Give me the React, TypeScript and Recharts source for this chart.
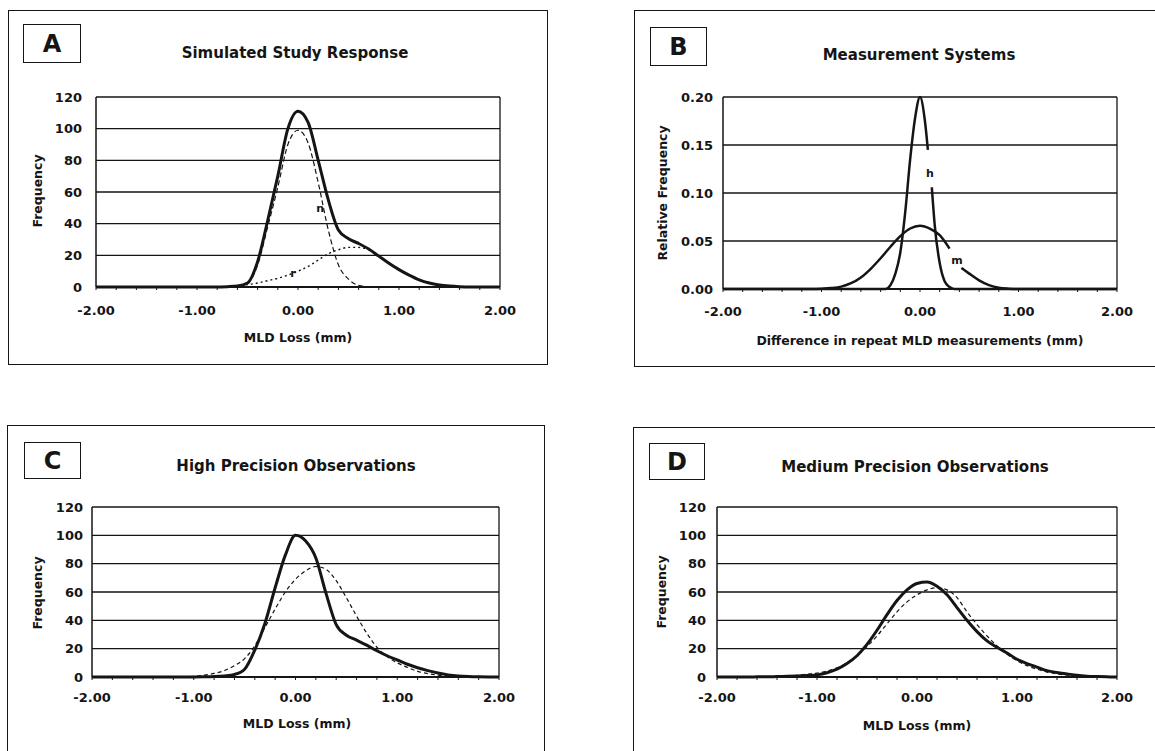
import React from "react";
import {
  LineChart,
  Line,
  XAxis,
  YAxis,
  CartesianGrid,
  ReferenceLine,
  ReferenceDot,
} from "recharts";

// shared x grid (mm), 0.1 steps
const gridX = [
  -2.0, -1.9, -1.8, -1.7, -1.6, -1.5, -1.4, -1.3, -1.2, -1.1, -1.0, -0.9, -0.8, -0.7,
  -0.6, -0.5, -0.4, -0.3, -0.2, -0.1, 0.0, 0.1, 0.2, 0.3, 0.4, 0.5, 0.6, 0.7, 0.8,
  0.9, 1.0, 1.1, 1.2, 1.3, 1.4, 1.5, 1.6, 1.7, 1.8, 1.9, 2.0,
];

const xTicks = [
  -2, -1.8, -1.6, -1.4, -1.2, -1, -0.8, -0.6, -0.4, -0.2, 0, 0.2, 0.4, 0.6, 0.8, 1,
  1.2, 1.4, 1.6, 1.8, 2,
];
const freqTicks = [0, 20, 40, 60, 80, 100, 120];
const relTicks = [0, 0.05, 0.1, 0.15, 0.2];

// A: simulated study response
const aTotal = [
  0, 0, 0, 0, 0, 0, 0, 0, 0, 0, 0, 0, 0, 0.2, 0.6, 2.5, 16, 42, 70, 100, 111, 104, 80,
  55, 36, 30.5, 27.5, 24, 19.5, 15, 11, 7.5, 4.5, 2.5, 1.3, 0.6, 0.2, 0, 0, 0, 0,
];
const aN = [
  0, 0, 0, 0, 0, 0, 0, 0, 0, 0, 0, 0, 0, 0, 0.3, 2, 14, 38, 63, 90, 99, 91, 66, 36, 14,
  5, 1, 0.2, 0, 0, 0, 0, 0, 0, 0, 0, 0, 0, 0, 0, 0,
];
const aR = [
  0, 0, 0, 0, 0, 0, 0, 0, 0, 0, 0, 0, 0, 0, 0.5, 1.5, 2.5, 4, 5.5, 7.5, 10, 13, 17, 21,
  23.5, 25, 25, 23.5, 19.5, 15, 11, 7.5, 4.5, 2.5, 1.3, 0.6, 0.2, 0, 0, 0, 0,
];

// B: measurement systems (null = gap left for the curve label)
const hX = [
  -2, -0.4, -0.35, -0.3, -0.25, -0.2, -0.15, -0.1, -0.05, 0, 0.05, 0.08, 0.1, 0.12,
  0.15, 0.2, 0.25, 0.3, 0.35, 0.4, 2,
];
const hY = [
  0, 0, 0, 0.004, 0.016, 0.038, 0.08, 0.135, 0.178, 0.2, 0.175, 0.145, null, 0.106,
  0.066, 0.027, 0.008, 0.002, 0, 0, 0,
];
const mX = [
  -2, -1.1, -1.0, -0.9, -0.8, -0.7, -0.6, -0.5, -0.4, -0.3, -0.2, -0.1, 0, 0.1, 0.2,
  0.3, 0.36, 0.42, 0.5, 0.6, 0.7, 0.8, 0.9, 1.0, 2,
];
const mY = [
  0, 0, 0.0003, 0.001, 0.0025, 0.006, 0.012, 0.021, 0.032, 0.044, 0.055, 0.063, 0.066,
  0.063, 0.056, 0.042, null, 0.022, 0.016, 0.009, 0.004, 0.0012, 0.0003, 0, 0,
];

// C: high precision observations
const cObs = [
  0, 0, 0, 0, 0, 0, 0, 0, 0, 0, 0, 0.1, 0.3, 0.8, 1.8, 5.5, 19, 38, 63, 86, 100, 96,
  84, 59, 37, 29.5, 26, 22.5, 18.5, 15, 12, 9, 6.5, 4.5, 2.8, 1.5, 0.7, 0.3, 0.1, 0, 0,
];
const cFit = [
  0, 0, 0, 0, 0, 0, 0, 0, 0, 0.2, 0.5, 1.3, 2.5, 4.5, 8, 13, 22, 35, 48, 60, 69, 75, 78,
  76, 68, 56, 43, 31, 21, 14.5, 10, 6.8, 4, 2.4, 1.3, 0.7, 0.3, 0.1, 0, 0, 0,
];

// D: medium precision observations
const dObs = [
  0, 0, 0, 0, 0.1, 0.2, 0.3, 0.5, 0.7, 1, 1.5, 3, 5.5, 9.5, 15, 23, 33, 44, 54, 61.5,
  66, 67, 64, 58, 49, 40, 32, 25.5, 21, 17, 12.5, 9.5, 7, 4.5, 3.2, 2.2, 1.2, 0.6, 0.3,
  0.1, 0,
];
const dFit = [
  0, 0, 0, 0, 0, 0.2, 0.4, 0.7, 1.2, 2, 2.8, 4.2, 6.5, 10, 15, 21.5, 29, 37.5, 46, 53,
  58, 61.5, 63, 61.5, 56, 46, 37, 29, 22, 16, 11.5, 8, 5.5, 3.5, 2.2, 1.3, 0.7, 0.3,
  0.1, 0, 0,
];

const pts = (xs: number[], ys: (number | null)[]) => xs.map((x, i) => ({ x, y: ys[i] }));

const FONT = "'DejaVu Sans', sans-serif";
const INK = "#151515";

type Series = { data: { x: number; y: number | null }[]; width: number; dash?: string };
type Note = { x: number; y: number; text: string };

type PanelProps = {
  letter: string;
  title: string;
  xTitle: string;
  yTitle: string;
  frame: { left: number; top: number; width: number; height: number };
  box: { left: number; top: number; width: number; height: number };
  titleAt: [number, number];
  xTitleAt: [number, number];
  yTitleAt: [number, number];
  plot: { left: number; top: number; width: number; height: number };
  yMax: number;
  yTicks: number[];
  yFmt: (v: number) => string;
  xGap: number;
  yGap: number;
  series: Series[];
  notes?: Note[];
};

const YW = 60;
const XH = 60;
const MT = 10;
const MR = 34;

function Panel(p: PanelProps) {
  const tick = { fontFamily: FONT, fontWeight: 700, fontSize: 13, fill: INK };
  return (
    <>
      <div
        style={{
          position: "absolute",
          left: p.frame.left,
          top: p.frame.top,
          width: p.frame.width,
          height: p.frame.height,
          border: `1.5px solid ${INK}`,
          boxSizing: "border-box",
        }}
      />
      <div
        style={{
          position: "absolute",
          left: p.box.left,
          top: p.box.top,
          width: p.box.width,
          height: p.box.height,
          border: `1.5px solid ${INK}`,
          boxSizing: "border-box",
          display: "flex",
          alignItems: "center",
          justifyContent: "center",
          fontSize: 24,
          fontWeight: 700,
          color: INK,
        }}
      >
        {p.letter}
      </div>
      <div
        style={{
          position: "absolute",
          left: p.titleAt[0],
          top: p.titleAt[1],
          transform: "translate(-50%, -50%)",
          whiteSpace: "nowrap",
          fontSize: 15,
          fontWeight: 700,
          color: INK,
        }}
      >
        {p.title}
      </div>
      <div
        style={{
          position: "absolute",
          left: p.xTitleAt[0],
          top: p.xTitleAt[1],
          transform: "translate(-50%, -50%)",
          whiteSpace: "nowrap",
          fontSize: 12.5,
          fontWeight: 700,
          color: INK,
        }}
      >
        {p.xTitle}
      </div>
      <div
        style={{
          position: "absolute",
          left: p.yTitleAt[0],
          top: p.yTitleAt[1],
          transform: "translate(-50%, -50%) rotate(-90deg)",
          whiteSpace: "nowrap",
          fontSize: 12.5,
          fontWeight: 700,
          color: INK,
        }}
      >
        {p.yTitle}
      </div>
      <div
        style={{
          position: "absolute",
          left: p.plot.left - YW,
          top: p.plot.top - MT,
        }}
      >
        <LineChart
          width={p.plot.width + YW + MR}
          height={p.plot.height + MT + XH}
          margin={{ top: MT, right: MR, left: 0, bottom: 0 }}
        >
          <CartesianGrid vertical={false} stroke={INK} strokeWidth={1.3} />
          <XAxis
            type="number"
            dataKey="x"
            domain={[-2, 2]}
            ticks={xTicks}
            interval={0}
            height={XH}
            tickSize={3}
            tickMargin={p.xGap}
            tick={tick}
            tickFormatter={(v: number) =>
              Math.abs(v - Math.round(v)) < 1e-6 ? v.toFixed(2) : ""
            }
            axisLine={{ stroke: INK, strokeWidth: 1.8 }}
            tickLine={{ stroke: INK, strokeWidth: 1 }}
          />
          <YAxis
            type="number"
            domain={[0, p.yMax]}
            ticks={p.yTicks}
            interval={0}
            width={YW}
            tickSize={0}
            tickLine={false}
            tickMargin={p.yGap}
            tick={tick}
            tickFormatter={p.yFmt}
            axisLine={{ stroke: INK, strokeWidth: 1.5 }}
          />
          <ReferenceLine x={2} stroke={INK} strokeWidth={1.3} />
          {p.series.map((s, i) => (
            <Line
              key={i}
              data={s.data}
              dataKey="y"
              type="monotone"
              stroke={INK}
              strokeWidth={s.width}
              strokeDasharray={s.dash}
              dot={false}
              activeDot={false}
              isAnimationActive={false}
            />
          ))}
          {(p.notes || []).map((n, i) => (
            <ReferenceDot
              key={"n" + i}
              x={n.x}
              y={n.y}
              r={0}
              fill="none"
              stroke="none"
              label={{
                value: n.text,
                position: "center",
                fontFamily: FONT,
                fontWeight: 700,
                fontSize: 11,
                fill: INK,
              }}
            />
          ))}
        </LineChart>
      </div>
    </>
  );
}

const fmtInt = (v: number) => String(Math.round(v));
const fmt2 = (v: number) => v.toFixed(2);

export default function App() {
  return (
    <div
      style={{
        position: "absolute",
        left: 0,
        top: 0,
        width: 1155,
        height: 751,
        overflow: "hidden",
        background: "#fff",
        fontFamily: FONT,
      }}
    >
      <Panel
        letter="A"
        title="Simulated Study Response"
        xTitle="MLD Loss (mm)"
        yTitle="Frequency"
        frame={{ left: 8, top: 10, width: 540, height: 355 }}
        box={{ left: 23, top: 24, width: 58, height: 39 }}
        titleAt={[295, 53]}
        xTitleAt={[298, 337]}
        yTitleAt={[37, 191]}
        plot={{ left: 96, top: 97, width: 404, height: 190 }}
        yMax={120}
        yTicks={freqTicks}
        yFmt={fmtInt}
        xGap={16}
        yGap={14}
        series={[
          { data: pts(gridX, aR), width: 1.4, dash: "2 3" },
          { data: pts(gridX, aN), width: 1.2, dash: "5 3" },
          { data: pts(gridX, aTotal), width: 3 },
        ]}
        notes={[
          { x: 0.22, y: 50, text: "n" },
          { x: -0.05, y: 9, text: "r" },
        ]}
      />
      <Panel
        letter="B"
        title="Measurement Systems"
        xTitle="Difference in repeat MLD measurements (mm)"
        yTitle="Relative Frequency"
        frame={{ left: 634, top: 10, width: 560, height: 357 }}
        box={{ left: 650, top: 27, width: 57, height: 39 }}
        titleAt={[919, 55]}
        xTitleAt={[920, 340]}
        yTitleAt={[662, 193]}
        plot={{ left: 723, top: 97, width: 394, height: 192 }}
        yMax={0.2}
        yTicks={relTicks}
        yFmt={fmt2}
        xGap={15}
        yGap={10}
        series={[
          { data: pts(mX, mY), width: 2.5 },
          { data: pts(hX, hY), width: 2.5 },
        ]}
        notes={[
          { x: 0.1, y: 0.121, text: "h" },
          { x: 0.375, y: 0.03, text: "m" },
        ]}
      />
      <Panel
        letter="C"
        title="High Precision Observations"
        xTitle="MLD Loss (mm)"
        yTitle="Frequency"
        frame={{ left: 7, top: 425, width: 538, height: 400 }}
        box={{ left: 24, top: 442, width: 57, height: 37 }}
        titleAt={[296, 466]}
        xTitleAt={[297, 723]}
        yTitleAt={[37, 593]}
        plot={{ left: 92, top: 507, width: 407, height: 170 }}
        yMax={120}
        yTicks={freqTicks}
        yFmt={fmtInt}
        xGap={13}
        yGap={9}
        series={[
          { data: pts(gridX, cFit), width: 1.2, dash: "4 3" },
          { data: pts(gridX, cObs), width: 3 },
        ]}
      />
      <Panel
        letter="D"
        title="Medium Precision Observations"
        xTitle="MLD Loss (mm)"
        yTitle="Frequency"
        frame={{ left: 633, top: 427, width: 560, height: 400 }}
        box={{ left: 649, top: 443, width: 56, height: 37 }}
        titleAt={[915, 467]}
        xTitleAt={[917, 725]}
        yTitleAt={[661, 592]}
        plot={{ left: 717, top: 507, width: 400, height: 170 }}
        yMax={120}
        yTicks={freqTicks}
        yFmt={fmtInt}
        xGap={13}
        yGap={11}
        series={[
          { data: pts(gridX, dFit), width: 1.2, dash: "4 3" },
          { data: pts(gridX, dObs), width: 3 },
        ]}
      />
    </div>
  );
}
